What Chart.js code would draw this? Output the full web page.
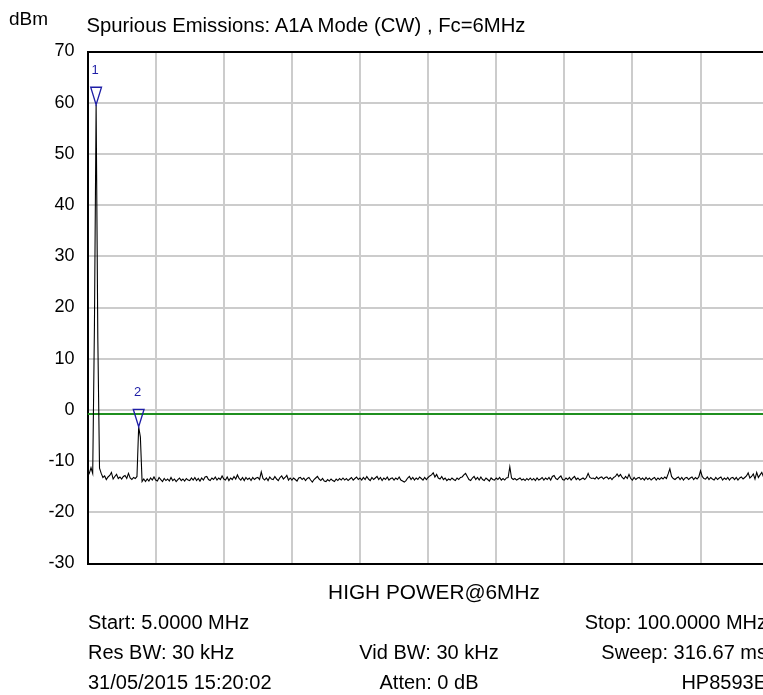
<!DOCTYPE html>
<html>
<head>
<meta charset="utf-8">
<script src="https://cdn.jsdelivr.net/npm/chart.js@4/dist/chart.umd.min.js"></script>
<style>
  html, body { margin: 0; padding: 0; background: #fff; overflow: hidden; }
  #wrap { position: relative; width: 770px; height: 695px; font-family: "Liberation Sans", Arial, sans-serif; color: #000; }
  #wrap canvas { position: absolute; left: 0; top: 0; }
  .t { position: absolute; font-size: 20px; line-height: 20px; white-space: nowrap; }
</style>
</head>
<body>
<div id="wrap">
  <canvas id="c" width="770" height="695"></canvas>
</div>
<script>
// Sweep settings (MHz) and the 401-point trace (dBm)
const startMHz = 5.0;
const stopMHz = 100.0;
const traceDbm = [
  -13.0, -12.4, -11.3, -12.4, 16.0, 59.6, 14.0, -11.4, -12.4, -13.2, -12.9, -13.6, -13.1, -12.8, -12.2, -13.5, -13.0, -12.6, -13.4, -13.1,
  -13.5, -13.0, -12.8, -13.4, -12.4, -13.3, -13.6, -13.2, -13.4, -13.0, -3.3, -5.3, -14.0, -13.5, -14.0, -13.5, -13.9, -13.3, -13.7, -13.1,
  -13.7, -13.9, -13.2, -13.6, -14.0, -13.4, -13.8, -13.5, -13.9, -13.2, -13.8, -13.5, -14.0, -13.6, -13.3, -13.8, -13.5, -13.9, -13.4, -13.7,
  -13.8, -13.3, -13.7, -13.2, -13.8, -13.4, -13.9, -13.3, -13.7, -13.1, -13.0, -13.6, -13.8, -13.3, -13.6, -13.1, -13.7, -13.3, -13.6, -12.9,
  -13.5, -13.7, -13.1, -13.8, -13.3, -13.6, -13.0, -13.5, -12.7, -13.4, -13.7, -13.2, -13.8, -13.2, -13.6, -13.3, -13.8, -13.2, -13.6, -13.3,
  -13.2, -13.6, -12.1, -13.4, -13.7, -13.3, -13.8, -13.1, -13.5, -13.6, -13.0, -13.5, -13.8, -13.2, -12.9, -13.5, -13.2, -12.8, -13.7, -13.3,
  -13.7, -13.3, -13.6, -13.9, -13.3, -13.2, -13.6, -13.3, -13.8, -13.4, -13.2, -13.7, -14.1, -13.6, -13.3, -13.0, -13.5, -13.8, -13.4, -13.9,
  -14.0, -13.6, -13.9, -13.5, -13.8, -14.0, -13.5, -13.8, -13.4, -13.7, -13.3, -13.7, -13.4, -13.8, -13.5, -13.2, -13.7, -13.4, -13.1, -13.6,
  -13.3, -13.7, -13.2, -13.6, -13.0, -13.5, -13.8, -13.2, -13.6, -13.3, -13.0, -13.6, -13.2, -13.8, -13.3, -13.6, -13.1, -13.7, -13.4, -13.3,
  -13.7, -13.3, -13.6, -13.1, -13.7, -13.9, -14.1, -13.8, -13.3, -13.0, -13.6, -13.2, -13.7, -13.3, -13.6, -13.1, -13.4, -13.7, -13.2, -13.6,
  -13.2, -12.9, -12.7, -12.3, -13.1, -12.6, -13.3, -13.5, -13.0, -13.6, -13.3, -13.8, -13.5, -13.7, -13.3, -13.6, -13.8, -13.3, -13.6, -13.2,
  -13.1, -12.7, -12.4, -13.0, -13.6, -13.8, -13.3, -13.0, -13.6, -13.2, -13.7, -13.1, -13.6, -13.8, -13.3, -13.6, -13.9, -13.3, -13.6, -13.7,
  -13.3, -13.6, -13.2, -13.7, -13.4, -13.7, -13.3, -13.2, -11.1, -13.3, -13.6, -13.4, -13.7, -13.5, -13.3, -13.7, -13.5, -13.8, -13.4, -13.7,
  -13.3, -13.7, -13.4, -13.8, -13.3, -13.7, -13.5, -13.2, -13.7, -13.3, -13.6, -13.2, -13.7, -13.0, -12.8, -13.4, -13.6, -13.2, -12.9, -13.6,
  -13.7, -13.3, -13.6, -13.2, -13.7, -13.3, -13.0, -13.6, -13.3, -13.7, -13.5, -13.3, -13.6, -13.2, -12.4, -13.2, -13.4, -13.3, -13.5, -13.1,
  -13.5, -13.2, -13.1, -13.5, -13.2, -13.1, -13.5, -13.2, -13.6, -13.2, -13.0, -12.5, -13.0, -12.6, -13.2, -13.5, -13.0, -13.4, -12.6, -13.4,
  -13.7, -13.2, -13.6, -13.3, -13.2, -13.6, -13.3, -13.7, -13.2, -13.6, -13.3, -13.7, -13.4, -13.2, -13.7, -13.3, -13.6, -13.2, -13.5, -13.1,
  -13.4, -12.5, -11.5, -13.0, -13.4, -13.6, -13.3, -13.1, -13.6, -13.2, -13.7, -13.3, -13.2, -13.6, -13.3, -13.1, -13.6, -13.2, -13.5, -13.1,
  -11.9, -13.0, -13.4, -13.5, -13.1, -13.6, -13.2, -13.5, -13.7, -13.2, -13.6, -13.3, -13.1, -13.7, -13.3, -13.6, -13.2, -13.7, -13.3, -13.2,
  -13.6, -13.2, -13.7, -13.3, -13.1, -13.5, -13.2, -12.9, -12.3, -13.3, -13.0, -12.5, -13.5, -12.2, -13.2, -12.7, -12.2, -13.1, -13.4, -13.1,
  -13.4
];

// Display line level (dBm) and the two markers (trace point index, label)
const displayLineDbm = -0.8;
const markerIndex = [5, 30];
const markerLabels = ['1', '2'];

// Axis range and grid steps
const yMin = -30, yMax = 70, yStep = 10;
const xGridStepMHz = 9.5;

// Annotation text
const unitLabel = 'dBm';
const titleText = 'Spurious Emissions: A1A Mode (CW) , Fc=6MHz';
const captionText = 'HIGH POWER@6MHz';
const infoLeft = ['Start: 5.0000 MHz', 'Res BW: 30 kHz', '31/05/2015 15:20:02'];
const infoCenter = ['', 'Vid BW: 30 kHz', 'Atten: 0 dB'];
const infoRight = ['Stop: 100.0000 MHz', 'Sweep: 316.67 ms', 'HP8593E'];

// ---- build ----
const FONT = '"Liberation Sans", Arial, sans-serif';
const MARKER_COLOR = '#1e1ea6';
const stepMHz = (stopMHz - startMHz) / (traceDbm.length - 1);
const freqAt = i => startMHz + i * stepMHz;
const tracePoints = traceDbm.map((v, i) => ({ x: freqAt(i), y: v }));
const linePoints = [{ x: startMHz, y: displayLineDbm }, { x: stopMHz, y: displayLineDbm }];

const wrap = document.getElementById('wrap');
function addText(txt, style) {
  if (!txt) return;
  const d = document.createElement('div');
  d.className = 't';
  d.textContent = txt;
  Object.assign(d.style, style);
  wrap.appendChild(d);
}
addText(unitLabel, { left: '9px', top: '9px', fontSize: '19px', lineHeight: '19px' });
addText(titleText, { left: '86.5px', top: '15px', fontSize: '20.3px' });
addText(captionText, { left: '234px', width: '400px', textAlign: 'center', top: '582px', fontSize: '20.8px' });
const rowTops = [612, 642, 672];
infoLeft.forEach((s, i) => addText(s, { left: '88px', top: rowTops[i] + 'px' }));
infoCenter.forEach((s, i) => addText(s, { left: '329px', width: '200px', textAlign: 'center', top: rowTops[i] + 'px' }));
infoRight.forEach((s, i) => addText(s, { right: '3px', textAlign: 'right', top: rowTops[i] + 'px' }));

// Inverted triangle markers with their number above
const markerPlugin = {
  id: 'traceMarkers',
  afterDatasetsDraw(chart) {
    const { ctx, scales: { x, y } } = chart;
    ctx.save();
    markerIndex.forEach((idx, k) => {
      const px = x.getPixelForValue(freqAt(idx));
      const py = y.getPixelForValue(traceDbm[idx]);
      const hw = 5.4, h = 17.5;
      ctx.beginPath();
      ctx.moveTo(px, py);
      ctx.lineTo(px - hw, py - h);
      ctx.lineTo(px + hw, py - h);
      ctx.closePath();
      ctx.strokeStyle = MARKER_COLOR;
      ctx.lineWidth = 1.3;
      ctx.stroke();
      ctx.fillStyle = MARKER_COLOR;
      ctx.font = '13px ' + FONT;
      ctx.textAlign = 'center';
      ctx.textBaseline = 'alphabetic';
      ctx.fillText(markerLabels[k], px - 1, py - h - 13);
    });
    ctx.restore();
  }
};

new Chart(document.getElementById('c'), {
  type: 'line',
  data: {
    datasets: [
      { data: linePoints, borderColor: '#1f8f1f', borderWidth: 2, pointRadius: 0, tension: 0, order: 2 },
      { data: tracePoints, borderColor: '#000', borderWidth: 1.1, pointRadius: 0, tension: 0, order: 1 }
    ]
  },
  options: {
    responsive: false,
    animation: false,
    events: [],
    layout: { padding: { left: 0, right: 1.4, top: 51.5, bottom: 131.5 } },
    plugins: { legend: { display: false }, tooltip: { enabled: false }, title: { display: false } },
    scales: {
      x: {
        type: 'linear', min: startMHz, max: stopMHz,
        ticks: { display: false, stepSize: xGridStepMHz },
        grid: { color: '#cccccc', lineWidth: 2, drawTicks: false },
        border: { color: '#000', width: 2 },
        afterFit(s) { s.height = 0; }
      },
      y: {
        min: yMin, max: yMax,
        ticks: { stepSize: yStep, color: '#000', padding: 13, font: { family: FONT, size: 18 } },
        grid: {
          color: c => (c.tick && c.tick.value === yMax) ? '#000' : '#cccccc',
          lineWidth: 2, drawTicks: false
        },
        border: { color: '#000', width: 2 },
        afterFit(s) { s.width = 87.6; }
      }
    }
  },
  plugins: [markerPlugin]
});
</script>
</body>
</html>
